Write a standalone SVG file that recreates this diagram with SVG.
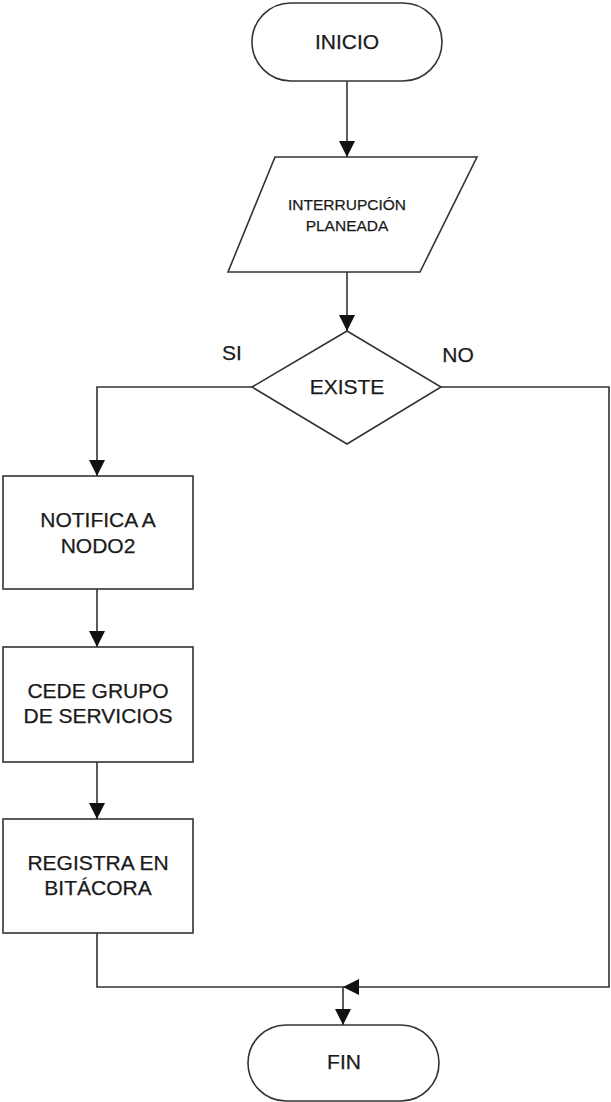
<svg xmlns="http://www.w3.org/2000/svg" width="611" height="1102" viewBox="0 0 611 1102">
  <style>
    .shape { fill: #ffffff; stroke: #333333; stroke-width: 1.6; }
    .wire { fill: none; stroke: #333333; stroke-width: 1.6; }
    .lbl { font-family: "Liberation Sans", Arial, sans-serif; font-size: 21px; fill: #1a1a1a; stroke: #1a1a1a; stroke-width: 0.25; text-anchor: middle; }
    .small { font-size: 15.5px; }
  </style>
  <defs>
    <marker id="arrow" viewBox="0 0 16 16" refX="16" refY="8" markerWidth="16" markerHeight="16" markerUnits="userSpaceOnUse" orient="auto">
      <path d="M0,0 L16,8 L0,16 z" fill="#111111"/>
    </marker>
  </defs>

  <rect width="611" height="1102" fill="#ffffff"/>

  <!-- connectors -->
  <g id="connectors">
    <path class="wire" d="M347,81 L347,157" marker-end="url(#arrow)"/>
    <path class="wire" d="M347,272 L347,331" marker-end="url(#arrow)"/>
    <path class="wire" d="M252,387 L97,387 L97,476" marker-end="url(#arrow)"/>
    <path class="wire" d="M97,589 L97,647" marker-end="url(#arrow)"/>
    <path class="wire" d="M97,762 L97,819" marker-end="url(#arrow)"/>
    <path class="wire" d="M97,933 L97,987 L343,987"/>
    <path class="wire" d="M441,387 L609,387 L609,987 L343,987" marker-end="url(#arrow)"/>
    <path class="wire" d="M343,987 L343,1025" stroke-width="1.3" marker-end="url(#arrow)"/>
    <text class="lbl" x="232" y="360">SI</text>
    <text class="lbl" x="458" y="362">NO</text>
  </g>

  <!-- start terminal -->
  <g id="inicio">
    <rect class="shape" x="252" y="3" width="190" height="78" rx="39" ry="39"/>
    <text class="lbl" x="347" y="49">INICIO</text>
  </g>

  <!-- input: planned interruption -->
  <g id="interrupcion">
    <polygon class="shape" points="275,157 477,157 420,272 228,272"/>
    <text class="lbl small" x="347" y="210">INTERRUPCIÓN</text>
    <text class="lbl small" x="347" y="231">PLANEADA</text>
  </g>

  <!-- decision -->
  <g id="existe">
    <polygon class="shape" points="347,331 441,387 347,444 252,387"/>
    <text class="lbl" x="347" y="394">EXISTE</text>
  </g>

  <g id="notifica">
    <rect class="shape" x="3" y="476" width="190" height="113"/>
    <text class="lbl" x="98" y="527">NOTIFICA A</text>
    <text class="lbl" x="98" y="553">NODO2</text>
  </g>

  <g id="cede">
    <rect class="shape" x="3" y="647" width="190" height="115"/>
    <text class="lbl" x="98" y="698">CEDE GRUPO</text>
    <text class="lbl" x="98" y="723">DE SERVICIOS</text>
  </g>

  <g id="registra">
    <rect class="shape" x="3" y="819" width="190" height="114"/>
    <text class="lbl" x="98" y="870">REGISTRA EN</text>
    <text class="lbl" x="98" y="895">BITÁCORA</text>
  </g>

  <!-- end terminal -->
  <g id="fin">
    <rect class="shape" x="248" y="1025" width="191" height="76" rx="38" ry="38"/>
    <text class="lbl" x="344" y="1069">FIN</text>
  </g>
</svg>
